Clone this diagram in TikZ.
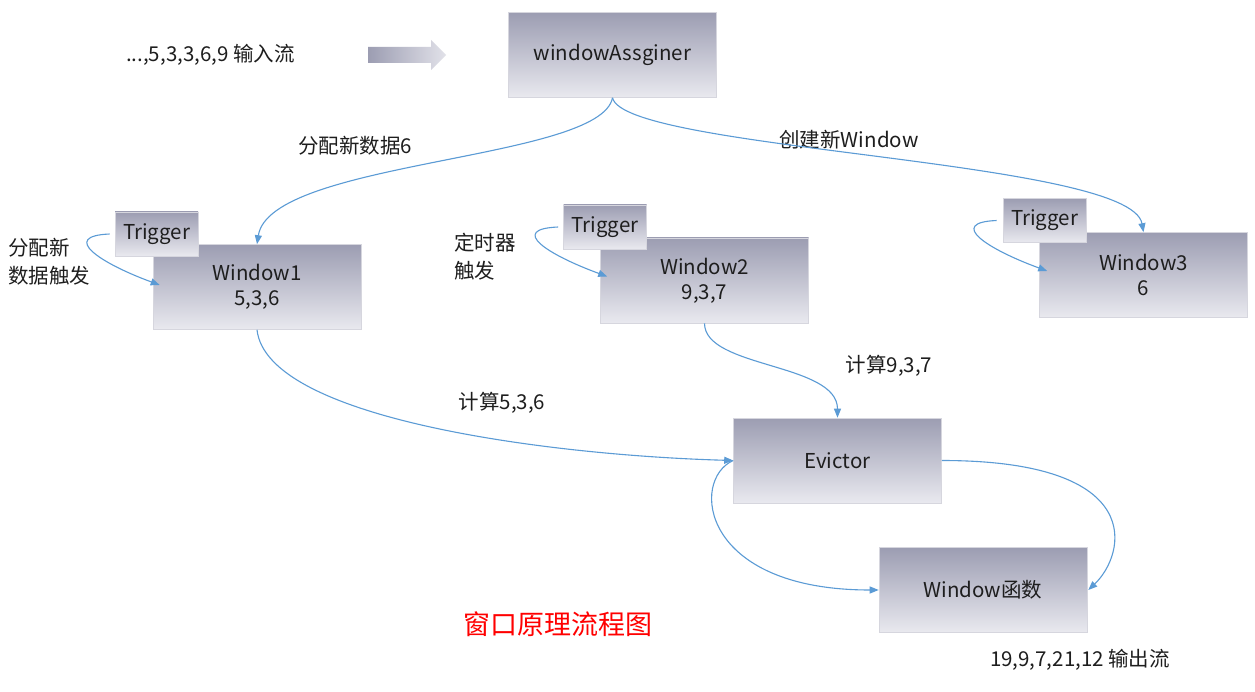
\documentclass[tikz,border=0pt]{standalone}
\usepackage{fontspec}
\setmainfont{Noto Sans CJK SC}
\usetikzlibrary{arrows.meta}
\definecolor{boxtop}{RGB}{156,157,178}
\definecolor{boxbot}{RGB}{233,233,239}
\definecolor{boxline}{RGB}{214,214,222}
\definecolor{link}{RGB}{91,155,213}
\definecolor{ink}{RGB}{30,30,30}
\tikzset{
  box/.style={rectangle, draw=boxline, line width=0.6pt, top color=boxtop,
    bottom color=boxbot, inner sep=0pt, text=ink, align=center,
    font=\fontsize{20.5}{25}\selectfont},
  bigbox/.style={box, minimum width=208, minimum height=85},
  trigbox/.style={box, minimum width=83, minimum height=44},
  lbl/.style={text=ink, inner sep=0pt, font=\fontsize{20.5}{28}\selectfont},
  link/.style={draw=link, line width=1.1pt,
    -{Triangle[length=9pt,width=7pt]}},
}
\begin{document}
\begin{tikzpicture}[x=1pt,y=-1pt]
\useasboundingbox[fill=white] (0,0) rectangle (1255,692);

% input stream and its shaded arrow
\node[lbl, anchor=west] (input) at (126,55) {...,5,3,3,6,9 输入流};
\shade[left color=boxtop, right color=boxbot!90!boxtop]
  (368,47) -- (431,47) -- (431,40) -- (446,55) -- (431,70) -- (431,63) -- (368,63) -- cycle;

% boxes
\node[bigbox] (wa) at (612.5,55) {windowAssginer};
\node[bigbox] (w1) at (257,287) {Window1\\5,3,6};
\node[bigbox] (w2) at (704.5,280.5) {Window2\\9,3,7};
\node[bigbox] (w3) at (1143.5,275) {Window3\\6};
\node[bigbox] (ev) at (837.5,460.5) {Evictor};
\node[bigbox] (wf) at (983,590) {Window函数};
\node[trigbox] (t1) at (156.5,234) {Trigger};
\node[trigbox] (t2) at (605,227) {Trigger};
\node[trigbox] (t3) at (1044.5,220.5) {Trigger};

% labels
\node[lbl] (l1) at (355,146) {分配新数据6};
\node[lbl] (l2) at (849,140) {创建新Window};
\node[lbl, anchor=west, align=left] (l3) at (8,262) {分配新\\数据触发};
\node[lbl, anchor=west, align=left] (l4) at (454,257) {定时器\\触发};
\node[lbl] (l5) at (889,366) {计算9,3,7};
\node[lbl] (l6) at (502,403) {计算5,3,6};
\node[lbl] (l7) at (1080,660) {19,9,7,21,12 输出流};
\node[text=red, inner sep=0pt, font=\fontsize{27}{30}\selectfont] (title) at (558,624) {窗口原理流程图};

% connectors
\draw[link] (wa.south) .. controls +(-12,63) and +(13,-84) .. (w1.north);
\draw[link] (wa.south) .. controls +(12,53) and +(-13,-73) .. (w3.north);
\draw[link] ([xshift=-5]t1.west) .. controls +(-50,2) and +(-60,-22) .. ([xshift=7,yshift=2]w1.west);
\draw[link] ([xshift=-5]t2.west) .. controls +(-50,2) and +(-60,-22) .. ([xshift=7,yshift=4]w2.west);
\draw[link] ([xshift=-6]t3.west) .. controls +(-50,2) and +(-60,-22) .. ([xshift=8,yshift=4]w3.west);
\draw[link] (w1.south) .. controls +(10,90) and +(-180,-5) .. (ev.west);
\draw[link] (w2.south) .. controls +(0,45) and +(0,-55) .. (ev.north);
\draw[link] (ev.east) .. controls +(208,0) and +(37,-35) .. ([xshift=1]wf.east);
\draw[link] (ev.west) .. controls +(-43,19) and +(-179,0) .. (wf.west);
\end{tikzpicture}
\end{document}
